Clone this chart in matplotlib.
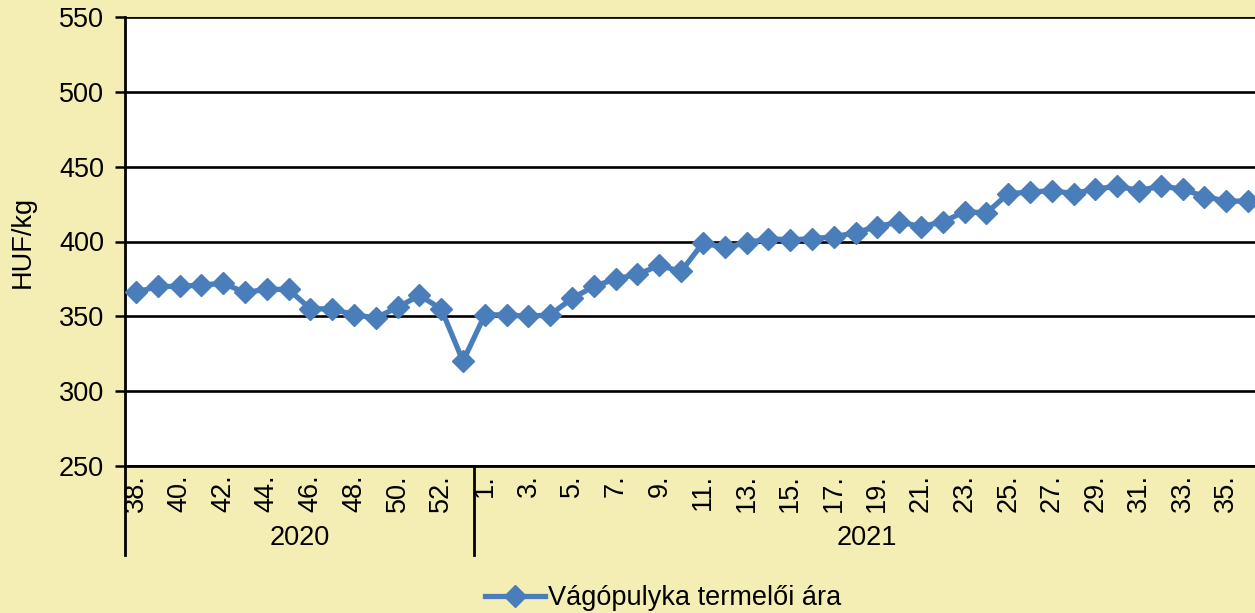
import matplotlib.pyplot as plt
from matplotlib.lines import Line2D
import matplotlib.transforms as mtransforms

# Data
weeks_2020 = list(range(38, 54))
weeks_2021 = list(range(1, 37))
price_2020 = [366, 370, 370, 371, 372, 366, 368, 368, 355, 355, 351, 349, 356, 364, 355, 320]
price_2021 = [351, 351, 350, 351, 362, 370, 375, 378, 384, 380,
              399, 396, 399, 402, 401, 402, 403, 406, 410, 413,
              410, 413, 420, 419, 432, 433, 434, 432, 435, 437,
              434, 437, 435, 430, 427, 427]
years = ['2020', '2021']
series_name = 'Vágópulyka termelői ára'

labels = [f'{w}.' for w in weeks_2020] + [f'{w}.' for w in weeks_2021]
prices = price_2020 + price_2021
x = list(range(len(prices)))

plt.rcParams['font.family'] = ['Liberation Sans', 'DejaVu Sans']
bg = '#F4EEB4'
blue = '#4A7EBB'
fs = 19.5

fig = plt.figure(figsize=(12.55, 6.13), dpi=100, facecolor=bg)
ax = fig.add_axes([125/1255, 147/613, 1134/1255, 449/613])
ax.set_facecolor('white')

ax.plot(x, prices, color=blue, lw=3.8, marker='D', markersize=11, zorder=3)

ax.set_xlim(-0.5, len(prices) - 0.5)
ax.set_ylim(250, 550)
ax.set_yticks(range(250, 551, 50))
ax.tick_params(axis='y', labelsize=fs, length=7, width=1.8, direction='out', pad=8)
ax.yaxis.grid(True, color='black', lw=1.9)
ax.set_axisbelow(True)

ax.set_xticks(x[::2])
ax.set_xticklabels(labels[::2], rotation=90, fontsize=fs, va='top')
ax.tick_params(axis='x', length=0, pad=6)

for s in ['top', 'right']:
    ax.spines[s].set_visible(False)
ax.spines['left'].set_linewidth(2)
ax.spines['bottom'].set_linewidth(2)

ax.set_ylabel('HUF/kg', fontsize=fs, labelpad=17)

# year grouping below the axis
trans = mtransforms.blended_transform_factory(ax.transData, ax.transAxes)
n20 = len(price_2020)
for xb in [-0.5, n20 - 0.5]:
    ax.add_line(Line2D([xb, xb], [0, -0.198], transform=trans, color='black', lw=2, clip_on=False))
ax.text((n20 - 1) / 2, -0.16, years[0], transform=trans, ha='center', va='center', fontsize=fs)
ax.text((n20 + len(prices) - 1) / 2, -0.16, years[1], transform=trans, ha='center', va='center', fontsize=fs)

handle = Line2D([], [], color=blue, lw=3.8, marker='D', markersize=11)
fig.legend([handle], [series_name], loc='center', bbox_to_anchor=(663/1255, 1 - 598/613),
           frameon=False, fontsize=fs, handlelength=2.2, handletextpad=0.1)

fig.savefig('out.png', dpi=100, facecolor=bg)
